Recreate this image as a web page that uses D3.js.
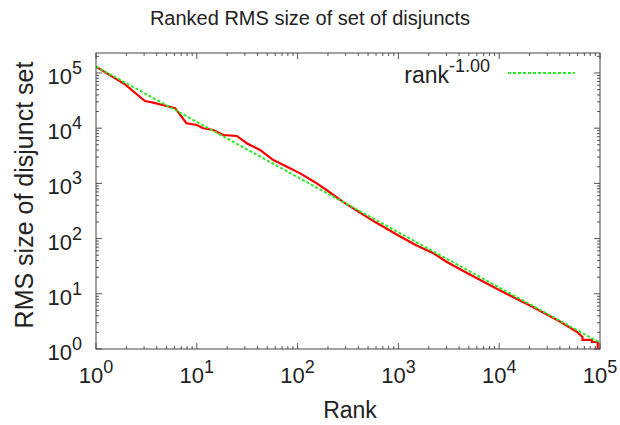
<!DOCTYPE html>
<html><head><meta charset="utf-8">
<script src="https://cdn.jsdelivr.net/npm/d3@7"></script>
<style>body{margin:0;background:#fff}svg{display:block}text{font-family:"Liberation Sans",Arial,sans-serif;fill:#222}</style>
</head><body><svg id="c" width="620" height="425"></svg>
<script>
const titleText = "Ranked RMS size of set of disjuncts";
const xLabel = "Rank";
const yLabel = "RMS size of disjunct set";
const legendBase = "rank";
const legendExp = "-1.00";
const xTickExps = [0,1,2,3,4,5];
const yTickExps = [0,1,2,3,4,5];
const fitAmp = 1.3e5;
const fitExp = -1.00;
const rankVals = [1,1.94,3.06,3.7,6.1,7.9,10,11.6,14.6,18.3,24.9,31.3,42.4,57.4,84,106,150,200,282,400,600,1000,1500,2200,3000,5000,10000,20000,40000,60000,67000,67000,83000,83000,95000,95000,100000];
const sizeVals = [1.3e5,6.2e4,3.1e4,2.9e4,2.3e4,1.23e4,1.14e4,9960,9270,7530,7220,5330,4030,2650,1880,1520,1040,728,461,309,195,114,76,55,38,22.9,11.7,6.2,3.15,2.0,1.65,1.46,1.46,1.34,1.34,1,1];

const svg = d3.select("#c");
const L=96,R=600,T=53,B=349;
const x = d3.scaleLog().domain([1,1e5]).range([L,R]);
const y = d3.scaleLog().domain([1,2.3e5]).range([B,T]);

// title
svg.append("text").attr("x",310).attr("y",24.5).attr("text-anchor","middle").attr("font-size",20).text(titleText);

// ticks
const g = svg.append("g").attr("stroke","#555").attr("stroke-width",1);
const minorX=[], minorY=[];
for(let e=0;e<5;e++) for(let m=2;m<=9;m++){ minorX.push(m*Math.pow(10,e)); }
for(let e=0;e<6;e++) for(let m=2;m<=9;m++){ const v=m*Math.pow(10,e); if(v<=2.3e5) minorY.push(v); }
xTickExps.forEach(e=>{const v=Math.pow(10,e);const px=x(v);
  g.append("line").attr("x1",px).attr("x2",px).attr("y1",B).attr("y2",B-6);
  g.append("line").attr("x1",px).attr("x2",px).attr("y1",T).attr("y2",T+6);});
minorX.forEach(v=>{const px=x(v);
  g.append("line").attr("x1",px).attr("x2",px).attr("y1",B).attr("y2",B-3);
  g.append("line").attr("x1",px).attr("x2",px).attr("y1",T).attr("y2",T+3);});
yTickExps.forEach(e=>{const v=Math.pow(10,e);const py=y(v);
  g.append("line").attr("x1",L).attr("x2",L+6).attr("y1",py).attr("y2",py);
  g.append("line").attr("x1",R).attr("x2",R-6).attr("y1",py).attr("y2",py);});
minorY.forEach(v=>{const py=y(v);
  g.append("line").attr("x1",L).attr("x2",L+3).attr("y1",py).attr("y2",py);
  g.append("line").attr("x1",R).attr("x2",R-3).attr("y1",py).attr("y2",py);});

// tick labels
xTickExps.forEach(e=>{
  const t=svg.append("text").attr("x",x(Math.pow(10,e))).attr("y",383).attr("text-anchor","middle").attr("font-size",22);
  t.append("tspan").text("10");
  t.append("tspan").attr("dy",-10).attr("font-size",18).text(e);
});
yTickExps.forEach(e=>{
  const t=svg.append("text").attr("x",82).attr("y",y(Math.pow(10,e))+11).attr("text-anchor","end").attr("font-size",22);
  t.append("tspan").text("10");
  t.append("tspan").attr("dy",-10).attr("font-size",18).text(e);
});

// axis titles
svg.append("text").attr("x",350).attr("y",418).attr("text-anchor","middle").attr("font-size",23).text(xLabel);
svg.append("text").attr("transform","translate(33,195) rotate(-90)").attr("text-anchor","middle").attr("font-size",25).text(yLabel);

// data
svg.append("clipPath").attr("id","cp").append("rect").attr("x",L).attr("y",T).attr("width",R-L).attr("height",B-T);
const line = d3.line().x(d=>x(d[0])).y(d=>y(d[1]));
const data = rankVals.map((r,i)=>[r,sizeVals[i]]);
svg.append("path").datum(data).attr("clip-path","url(#cp)").attr("fill","none").attr("stroke","#ff0000").attr("stroke-width",2.2).attr("d",line);
const fit = xTickExps.map(e=>[Math.pow(10,e), fitAmp*Math.pow(Math.pow(10,e),fitExp)]);
svg.append("path").datum(fit).attr("clip-path","url(#cp)").attr("fill","none").attr("stroke","#22ee22").attr("stroke-width",2).attr("stroke-dasharray","3,2").attr("d",line);

// border
svg.append("rect").attr("x",L).attr("y",T).attr("width",R-L).attr("height",B-T).attr("fill","none").attr("stroke","#444").attr("stroke-width",1);

// legend
const lt = svg.append("text").attr("x",490).attr("y",83).attr("text-anchor","end").attr("font-size",23);
lt.append("tspan").text(legendBase);
lt.append("tspan").attr("dy",-11).attr("font-size",18).text(legendExp);
svg.append("line").attr("x1",508).attr("x2",575).attr("y1",73).attr("y2",73).attr("stroke","#22ee22").attr("stroke-width",2).attr("stroke-dasharray","3,2");
</script></body></html>
